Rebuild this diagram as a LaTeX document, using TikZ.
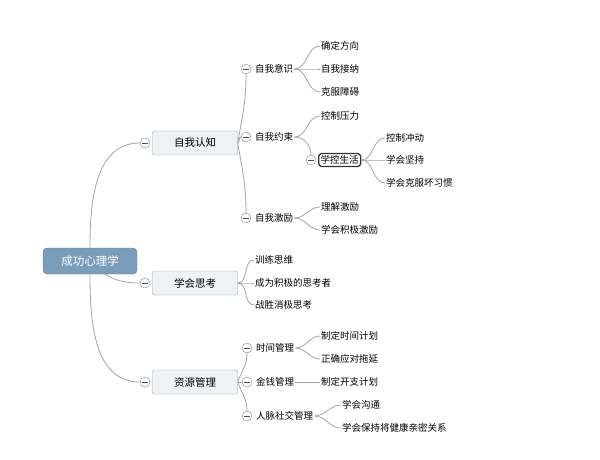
\documentclass[tikz,border=0pt]{standalone}
\usepackage{fontspec}
\setmainfont{Noto Sans CJK SC}
\definecolor{rootblue}{HTML}{7A9DBA}
\definecolor{boxgray}{HTML}{EEF2F5}
\definecolor{linegray}{HTML}{9AA6B0}
\begin{document}
\begin{tikzpicture}[x=1pt,y=-1pt,
    root/.style={draw=rootblue!80!black, fill=rootblue, rounded corners=4pt, text=white, font=\fontsize{11.5}{11.5}\selectfont, minimum width=94pt, minimum height=26pt},
    main/.style={draw=linegray, fill=boxgray, rounded corners=2pt, font=\fontsize{10.5}{10.5}\selectfont, minimum width=85pt, minimum height=24pt},
    leaf/.style={anchor=west, inner sep=1pt, font=\fontsize{9.5}{9.5}\selectfont},
    focus/.style={leaf, draw=black!80, line width=1.3pt, rounded corners=3pt, inner sep=2pt},
    fold/.style={draw=linegray!80!black, fill=white, circle, inner sep=0pt, minimum size=10pt,
        path picture={\draw[black!70] ([xshift=-3pt]path picture bounding box.center) -- ([xshift=3pt]path picture bounding box.center);}},
    link/.style={draw=linegray, thick}
]
\fill[white] (0,0) rectangle (600,459);
\useasboundingbox (0,0) rectangle (600,459);

% root and main topics
\node[root] (root) at (90,261) {成功心理学};
\node[main] (know) at (195,143) {自我认知};
\node[main] (think) at (195,283) {学会思考};
\node[main] (res) at (195,382) {资源管理};
\node[fold] (fk) at (145,143) {};
\node[fold] (ft) at (145,283) {};
\node[fold] (fr) at (145,382) {};

\draw[link] (root.north) to[out=90,in=180] (fk.west);
\draw[link] (root.south) to[out=-90,in=180] (fr.west);
\draw[link] (root.south) ++(15,0) to[out=-30,in=180] (ft.west);

% self knowledge
\node[fold] (f1) at (246,69) {};
\node[fold] (f2) at (246,137) {};
\node[fold] (f3) at (246,218) {};
\node[leaf] (aware) at (254,69) {自我意识};
\node[leaf] (restrain) at (254,137) {自我约束};
\node[leaf] (motiv) at (254,218) {自我激励};
\draw[link] (know.east) to[out=80,in=-90] (f1.south);
\draw[link] (know.east) to[out=0,in=180] (f2.west);
\draw[link] (know.east) to[out=-80,in=90] (f3.north);

\node[leaf] (a1) at (320,46) {确定方向};
\node[leaf] (a2) at (320,69) {自我接纳};
\node[leaf] (a3) at (320,92) {克服障碍};
\foreach \n in {a1,a2,a3} \draw[link] (aware.east) to[out=0,in=180] (\n.west);

\node[leaf] (r1) at (320,116) {控制压力};
\node[fold] (fl) at (311,160) {};
\node[focus] (life) at (318,160) {学控生活};
\draw[link] (restrain.east) to[out=0,in=180] (r1.west);
\draw[link] (restrain.east) to[out=0,in=90] (fl);

\node[leaf] (l1) at (385,138) {控制冲动};
\node[leaf] (l2) at (385,160) {学会坚持};
\node[leaf] (l3) at (385,183) {学会克服坏习惯};
\foreach \n in {l1,l2,l3} \draw[link] (life.east) to[out=0,in=180] (\n.west);

\node[leaf] (m1) at (320,207) {理解激励};
\node[leaf] (m2) at (320,230) {学会积极激励};
\foreach \n in {m1,m2} \draw[link] (motiv.east) to[out=0,in=180] (\n.west);

% thinking
\node[leaf] (t1) at (254,260) {训练思维};
\node[leaf] (t2) at (254,283) {成为积极的思考者};
\node[leaf] (t3) at (254,305) {战胜消极思考};
\foreach \n in {t1,t2,t3} \draw[link] (think.east) to[out=0,in=180] (\n.west);

% resources
\node[fold] (g1) at (247,348) {};
\node[fold] (g2) at (247,382) {};
\node[fold] (g3) at (247,416) {};
\node[leaf] (time) at (255,348) {时间管理};
\node[leaf] (money) at (255,382) {金钱管理};
\node[leaf] (social) at (255,416) {人脉社交管理};
\draw[link] (res.east) to[out=70,in=-90] (g1.south);
\draw[link] (res.east) -- (g2.west);
\draw[link] (res.east) to[out=-70,in=90] (g3.north);

\node[leaf] (s1) at (320,336) {制定时间计划};
\node[leaf] (s2) at (320,359) {正确应对拖延};
\foreach \n in {s1,s2} \draw[link] (time.east) to[out=0,in=180] (\n.west);
\node[leaf] (p1) at (320,382) {制定开支计划};
\draw[link] (money.east) -- (p1.west);
\node[leaf] (c1) at (341,405) {学会沟通};
\node[leaf] (c2) at (341,428) {学会保持将健康亲密关系};
\foreach \n in {c1,c2} \draw[link] (social.east) to[out=0,in=180] (\n.west);
\end{tikzpicture}
\end{document}
